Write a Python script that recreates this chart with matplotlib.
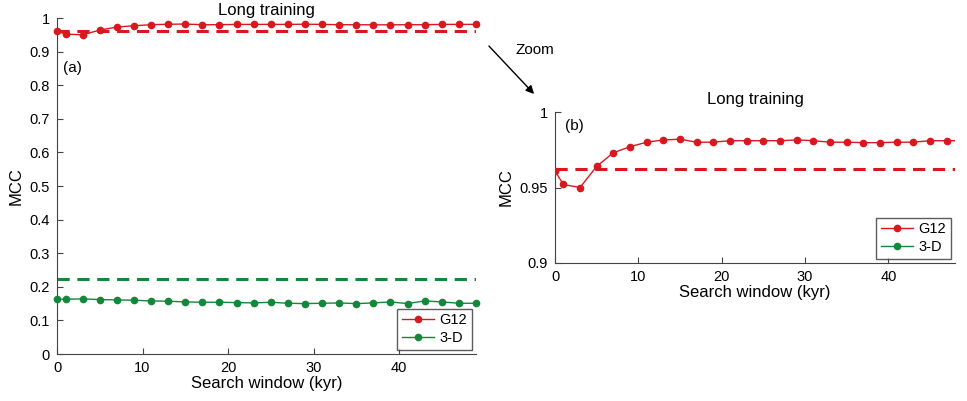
import matplotlib
matplotlib.use("Agg")
import matplotlib.pyplot as plt

plt.rcParams['font.family'] = ['Liberation Sans', 'DejaVu Sans']

x = [0, 1] + list(range(3, 50, 2))
g12 = [0.961, 0.952, 0.950, 0.964, 0.973, 0.977, 0.980, 0.9815, 0.982, 0.980, 0.980,
       0.981, 0.981, 0.981, 0.981, 0.9815, 0.981, 0.980, 0.980, 0.9797, 0.9797, 0.980,
       0.980, 0.981, 0.981, 0.981]
d3 = [0.163, 0.163, 0.164, 0.162, 0.161, 0.160, 0.158, 0.157, 0.155, 0.154, 0.154,
      0.153, 0.152, 0.154, 0.151, 0.150, 0.151, 0.152, 0.150, 0.152, 0.155, 0.150,
      0.158, 0.155, 0.151, 0.151]
g12_ref = 0.962
d3_ref = 0.224

RED = '#d7191f'
GREEN = '#13883a'
W, H = 967, 401
fig = plt.figure(figsize=(W/100, H/100), dpi=100)

def style(ax):
    for s in ['top', 'right']:
        ax.spines[s].set_visible(False)
    for s in ['left', 'bottom']:
        ax.spines[s].set_color('#444444')
    ax.tick_params(direction='in', length=4, labelsize=10.5, color='#444444', pad=5)
    ax.set_xlabel('Search window (kyr)', fontsize=12, labelpad=1)
    ax.set_ylabel('MCC', fontsize=12)

def plot_series(ax, xmax, show3d=True, clip=False):
    ax.plot(x, g12, '-o', color=RED, ms=4.5, lw=1, label='G12', clip_on=clip, zorder=3)
    ax.axhline(g12_ref, color=RED, ls=(0, (4, 2.5)), lw=2.2)
    if show3d:
        ax.plot(x, d3, '-o', color=GREEN, ms=4.5, lw=1, label='3-D', clip_on=clip, zorder=3)
        ax.axhline(d3_ref, color=GREEN, ls=(0, (4, 2.5)), lw=2.2)
    else:
        ax.plot([], [], '-o', color=GREEN, ms=4.5, lw=1, label='3-D')
    ax.set_xlim(0, xmax)
    leg = ax.legend(loc='lower right', fontsize=10.5, frameon=True, fancybox=False,
                    edgecolor='#333333', handlelength=2.2, borderaxespad=0.3,
                    borderpad=0.3, labelspacing=0.3, handletextpad=0.4)
    leg.get_frame().set_linewidth(1)

ax1 = fig.add_axes([57/W, 1-354/H, (476-57)/W, (354-18)/H])
plot_series(ax1, 49)
ax1.set_ylim(0, 1)
ax1.set_yticks([i/10 for i in range(11)])
ax1.set_yticklabels(['0', '0.1', '0.2', '0.3', '0.4', '0.5', '0.6', '0.7', '0.8', '0.9', '1'])
ax1.set_xticks([0, 10, 20, 30, 40])
style(ax1)
ax1.set_title('Long training', fontsize=12, pad=2)
ax1.text(0.015, 0.84, '(a)', transform=ax1.transAxes, fontsize=11)

ax2 = fig.add_axes([555/W, 1-263/H, (955-555)/W, (263-112)/H])
plot_series(ax2, 48, show3d=False, clip=True)
ax2.set_ylim(0.9, 1)
ax2.set_yticks([0.9, 0.95, 1])
ax2.set_yticklabels(['0.9', '0.95', '1'])
ax2.set_xticks([0, 10, 20, 30, 40])
style(ax2)
ax2.set_title('Long training', fontsize=12, pad=6)
ax2.text(0.025, 0.88, '(b)', transform=ax2.transAxes, fontsize=11)

fig.text(516/W, 1-50/H, 'Zoom', fontsize=11, va='center')
fig.add_artist(matplotlib.patches.FancyArrowPatch((487/W, 1-44/H), (536/W, 1-96/H),
               transform=fig.transFigure, arrowstyle='-|>', mutation_scale=12,
               color='black', lw=1))

fig.savefig('out.png', dpi=100)
